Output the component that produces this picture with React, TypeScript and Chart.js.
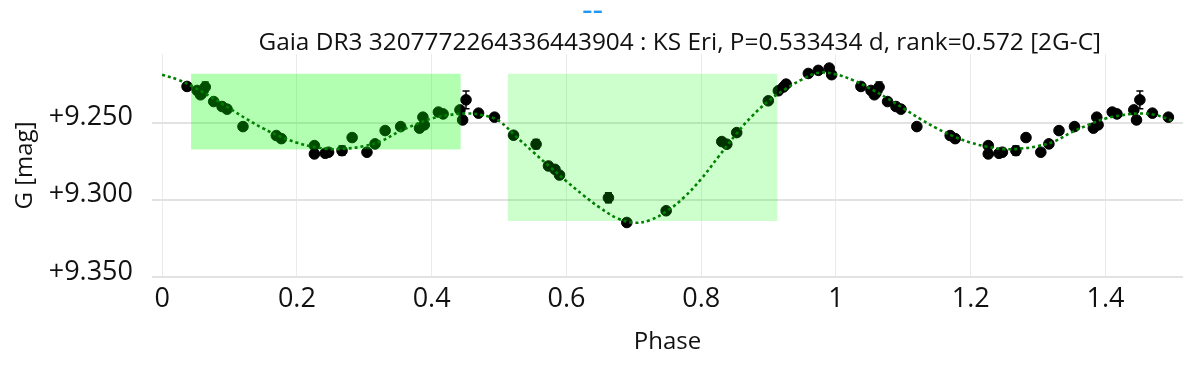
import React, { useEffect, useRef } from 'react';
import { Chart, registerables } from 'chart.js';

Chart.register(...registerables);

// ---- Observations (phase-folded, two cycles shown) ----
const obsPhase = [
  0.037, 0.052, 0.057, 0.0593, 0.064, 0.0766, 0.089, 0.0964, 0.12, 0.1695, 0.177,
  0.226, 0.226, 0.242, 0.247, 0.267, 0.282, 0.304, 0.316, 0.331, 0.354, 0.382,
  0.387, 0.389, 0.41, 0.417, 0.442, 0.446, 0.451, 0.4696, 0.4933,
  0.5215, 0.555, 0.5734, 0.583, 0.5897, 0.6623, 0.6896, 0.748, 0.8305, 0.838,
  0.8527, 0.8996, 0.9145, 0.922, 0.926, 0.959, 0.9738, 0.99, 0.9936,
  1.037, 1.052, 1.057, 1.0593, 1.064, 1.0766, 1.089, 1.0964, 1.12, 1.1695, 1.177,
  1.226, 1.226, 1.242, 1.247, 1.267, 1.282, 1.304, 1.316, 1.331, 1.354, 1.382,
  1.387, 1.389, 1.41, 1.417, 1.442, 1.446, 1.451, 1.4696, 1.4933,
];
const obsMag = [
  9.2266, 9.2292, 9.232, 9.2309, 9.227, 9.2364, 9.2396, 9.2413, 9.2526, 9.2584, 9.2604,
  9.2649, 9.2703, 9.2699, 9.2692, 9.2682, 9.2597, 9.2692, 9.2638, 9.2552, 9.2526, 9.2536,
  9.2465, 9.2515, 9.2432, 9.2444, 9.2418, 9.2483, 9.2353, 9.2439, 9.2465,
  9.2582, 9.264, 9.2781, 9.2803, 9.284, 9.2987, 9.3147, 9.3071, 9.2623, 9.264,
  9.2565, 9.2359, 9.2294, 9.227, 9.2251, 9.2182, 9.2162, 9.2147, 9.219,
  9.2266, 9.2292, 9.232, 9.2309, 9.227, 9.2364, 9.2396, 9.2413, 9.2526, 9.2584, 9.2604,
  9.2649, 9.2703, 9.2699, 9.2692, 9.2682, 9.2597, 9.2692, 9.2638, 9.2552, 9.2526, 9.2536,
  9.2465, 9.2515, 9.2432, 9.2444, 9.2418, 9.2483, 9.2353, 9.2439, 9.2465,
];
const obsErr = [
  0.002, 0.002, 0.002, 0.002, 0.0032, 0.002, 0.002, 0.002, 0.002, 0.002, 0.002,
  0.002, 0.002, 0.002, 0.002, 0.003, 0.002, 0.002, 0.002, 0.002, 0.002, 0.002,
  0.002, 0.002, 0.002, 0.002, 0.002, 0.002, 0.0058, 0.002, 0.002,
  0.002, 0.003, 0.002, 0.002, 0.002, 0.0033, 0.002, 0.002, 0.002, 0.002,
  0.002, 0.002, 0.002, 0.002, 0.002, 0.002, 0.002, 0.002, 0.002,
  0.002, 0.002, 0.002, 0.002, 0.0032, 0.002, 0.002, 0.002, 0.002, 0.002, 0.002,
  0.002, 0.002, 0.002, 0.002, 0.003, 0.002, 0.002, 0.002, 0.002, 0.002, 0.002,
  0.002, 0.002, 0.002, 0.002, 0.002, 0.002, 0.0058, 0.002, 0.002,
];

// ---- Model curve (dotted) ----
const fitPhase = [
  0, 0.025, 0.05, 0.075, 0.1, 0.125, 0.15, 0.175, 0.2, 0.225, 0.25, 0.275, 0.3, 0.325,
  0.35, 0.375, 0.4, 0.425, 0.45, 0.475, 0.5, 0.525, 0.55, 0.575, 0.6, 0.625, 0.65,
  0.675, 0.7, 0.725, 0.75, 0.775, 0.8, 0.825, 0.85, 0.875, 0.9, 0.925, 0.95, 0.975,
  1, 1.025, 1.05, 1.075, 1.1, 1.125, 1.15, 1.175, 1.2, 1.225, 1.25, 1.275, 1.3, 1.325,
  1.35, 1.375, 1.4, 1.425, 1.45, 1.475, 1.5,
];
const fitMag = [
  9.219, 9.2225, 9.2278, 9.234, 9.2408, 9.2476, 9.2538, 9.259, 9.263, 9.2657, 9.2672,
  9.2668, 9.2652, 9.262, 9.2562, 9.2514, 9.2474, 9.2452, 9.2441, 9.2452, 9.249,
  9.259, 9.2688, 9.2785, 9.288, 9.297, 9.3052, 9.3118, 9.3148, 9.313, 9.307, 9.2982,
  9.2865, 9.2725, 9.2585, 9.246, 9.236, 9.2283, 9.222, 9.2177,
  9.2188, 9.2225, 9.2278, 9.234, 9.2408, 9.2476, 9.2538, 9.259, 9.263, 9.2657, 9.2672,
  9.2668, 9.2652, 9.262, 9.2562, 9.2514, 9.2474, 9.2452, 9.2441, 9.2452, 9.249,
];

// ---- Highlighted phase windows ----
const boxX0 = [0.043, 0.513];
const boxX1 = [0.443, 0.913];
const boxY0 = [9.2184, 9.2184];
const boxY1 = [9.2674, 9.3137];

// ---- Axes ----
const xTickValues = [0, 0.2, 0.4, 0.6, 0.8, 1, 1.2, 1.4];
const yTickValues = [9.25, 9.3, 9.35];

const titleText = 'Gaia DR3 3207772264336443904 : KS Eri, P=0.533434 d, rank=0.572 [2G-C]';
const topLinkText = '--';

const FONT = "'Open Sans', 'DejaVu Sans', sans-serif";
const boxFills = ['rgba(0,255,0,0.3)', 'rgba(0,255,0,0.2)'];

const overlayPlugin = {
  id: 'overlayPlugin',
  beforeDatasetDraw(chart: any, args: any) {
    if (args.index !== 0) return;
    const { ctx, chartArea } = chart;
    const xs = chart.scales.x;
    const ys = chart.scales.y;
    ctx.save();
    ctx.beginPath();
    ctx.rect(chartArea.left, chartArea.top, chartArea.right - chartArea.left, chartArea.bottom - chartArea.top);
    ctx.clip();
    ctx.strokeStyle = '#000';
    ctx.lineWidth = 1.5;
    for (let i = 0; i < obsPhase.length; i++) {
      const x = xs.getPixelForValue(obsPhase[i]);
      const y1 = ys.getPixelForValue(obsMag[i] - obsErr[i]);
      const y2 = ys.getPixelForValue(obsMag[i] + obsErr[i]);
      ctx.beginPath();
      ctx.moveTo(x, y1);
      ctx.lineTo(x, y2);
      ctx.moveTo(x - 3.5, y1);
      ctx.lineTo(x + 3.5, y1);
      ctx.moveTo(x - 3.5, y2);
      ctx.lineTo(x + 3.5, y2);
      ctx.stroke();
    }
    ctx.restore();
  },
  afterDatasetDraw(chart: any, args: any) {
    if (args.index !== 0) return;
    const { ctx } = chart;
    const xs = chart.scales.x;
    const ys = chart.scales.y;
    ctx.save();
    for (let i = 0; i < boxX0.length; i++) {
      const l = xs.getPixelForValue(boxX0[i]);
      const r = xs.getPixelForValue(boxX1[i]);
      const t = ys.getPixelForValue(boxY0[i]);
      const b = ys.getPixelForValue(boxY1[i]);
      ctx.fillStyle = boxFills[i];
      ctx.fillRect(l, t, r - l, b - t);
    }
    ctx.restore();
  },
  afterDraw(chart: any) {
    const { ctx } = chart;
    ctx.save();
    ctx.textAlign = 'center';
    ctx.textBaseline = 'alphabetic';
    ctx.fillStyle = '#2196f3';
    ctx.font = `33px ${FONT}`;
    ctx.fillText(topLinkText, 592.5, 20.5);
    ctx.fillStyle = '#111';
    ctx.font = `24.4px ${FONT}`;
    ctx.fillText(titleText, 679.7, 50);
    ctx.restore();
  },
};

export default function App() {
  const canvasRef = useRef<HTMLCanvasElement | null>(null);

  useEffect(() => {
    if (!canvasRef.current) return;
    const scatterData = obsPhase.map((x, i) => ({ x, y: obsMag[i] }));
    const fitData = fitPhase.map((x, i) => ({ x, y: fitMag[i] }));

    const chart = new Chart(canvasRef.current, {
      type: 'scatter',
      data: {
        datasets: [
          {
            label: 'G',
            data: scatterData,
            backgroundColor: '#000',
            borderColor: '#000',
            pointRadius: 5.3,
            pointBorderWidth: 1,
            showLine: false,
            order: 2,
          } as any,
          {
            type: 'line',
            label: 'model',
            data: fitData,
            borderColor: '#008000',
            borderWidth: 2.6,
            borderDash: [3, 3],
            pointRadius: 0,
            tension: 0.4,
            fill: false,
            order: 1,
          } as any,
        ],
      },
      options: {
        animation: false,
        responsive: false,
        events: [],
        layout: { padding: { top: 54, right: 13, bottom: 0, left: 0 } },
        plugins: {
          legend: { display: false },
          tooltip: { enabled: false },
          title: { display: false },
        },
        scales: {
          x: {
            type: 'linear',
            min: -0.015,
            max: 1.515,
            afterBuildTicks: (scale: any) => {
              scale.ticks = xTickValues.map((v) => ({ value: v }));
            },
            afterFit: (scale: any) => {
              scale.height = 93;
            },
            grid: { color: '#ebebeb', lineWidth: 1, drawTicks: false },
            border: { display: false },
            ticks: {
              font: { family: FONT, size: 27 },
              color: '#111',
              padding: 6,
              maxRotation: 0,
              autoSkip: false,
              callback: (v: any) => String(Math.round(Number(v) * 10) / 10),
            },
            title: {
              display: true,
              text: 'Phase',
              color: '#111',
              font: { family: FONT, size: 24 },
              padding: { top: 0, bottom: 13.6 },
            },
          },
          y: {
            type: 'linear',
            reverse: true,
            min: 9.2056,
            max: 9.35,
            afterBuildTicks: (scale: any) => {
              scale.ticks = yTickValues.map((v) => ({ value: v }));
            },
            afterFit: (scale: any) => {
              scale.width = 152;
            },
            grid: { color: '#e2e2e2', lineWidth: 2, drawTicks: false },
            border: { display: false },
            ticks: {
              font: { family: FONT, size: 27 },
              color: '#111',
              padding: 19,
              labelOffset: -5,
              autoSkip: false,
              callback: (v: any) => '+' + Number(v).toFixed(3),
            },
            title: {
              display: true,
              text: 'G [mag]',
              color: '#111',
              font: { family: FONT, size: 24 },
              padding: { top: 11, bottom: 0 },
            },
          },
        },
      },
      plugins: [overlayPlugin],
    });
    return () => chart.destroy();
  }, []);

  return (
    <div style={{ position: 'absolute', left: 0, top: 0, width: 1196, height: 370, background: '#fff' }}>
      <canvas ref={canvasRef} width={1196} height={370} style={{ display: 'block' }} />
    </div>
  );
}
